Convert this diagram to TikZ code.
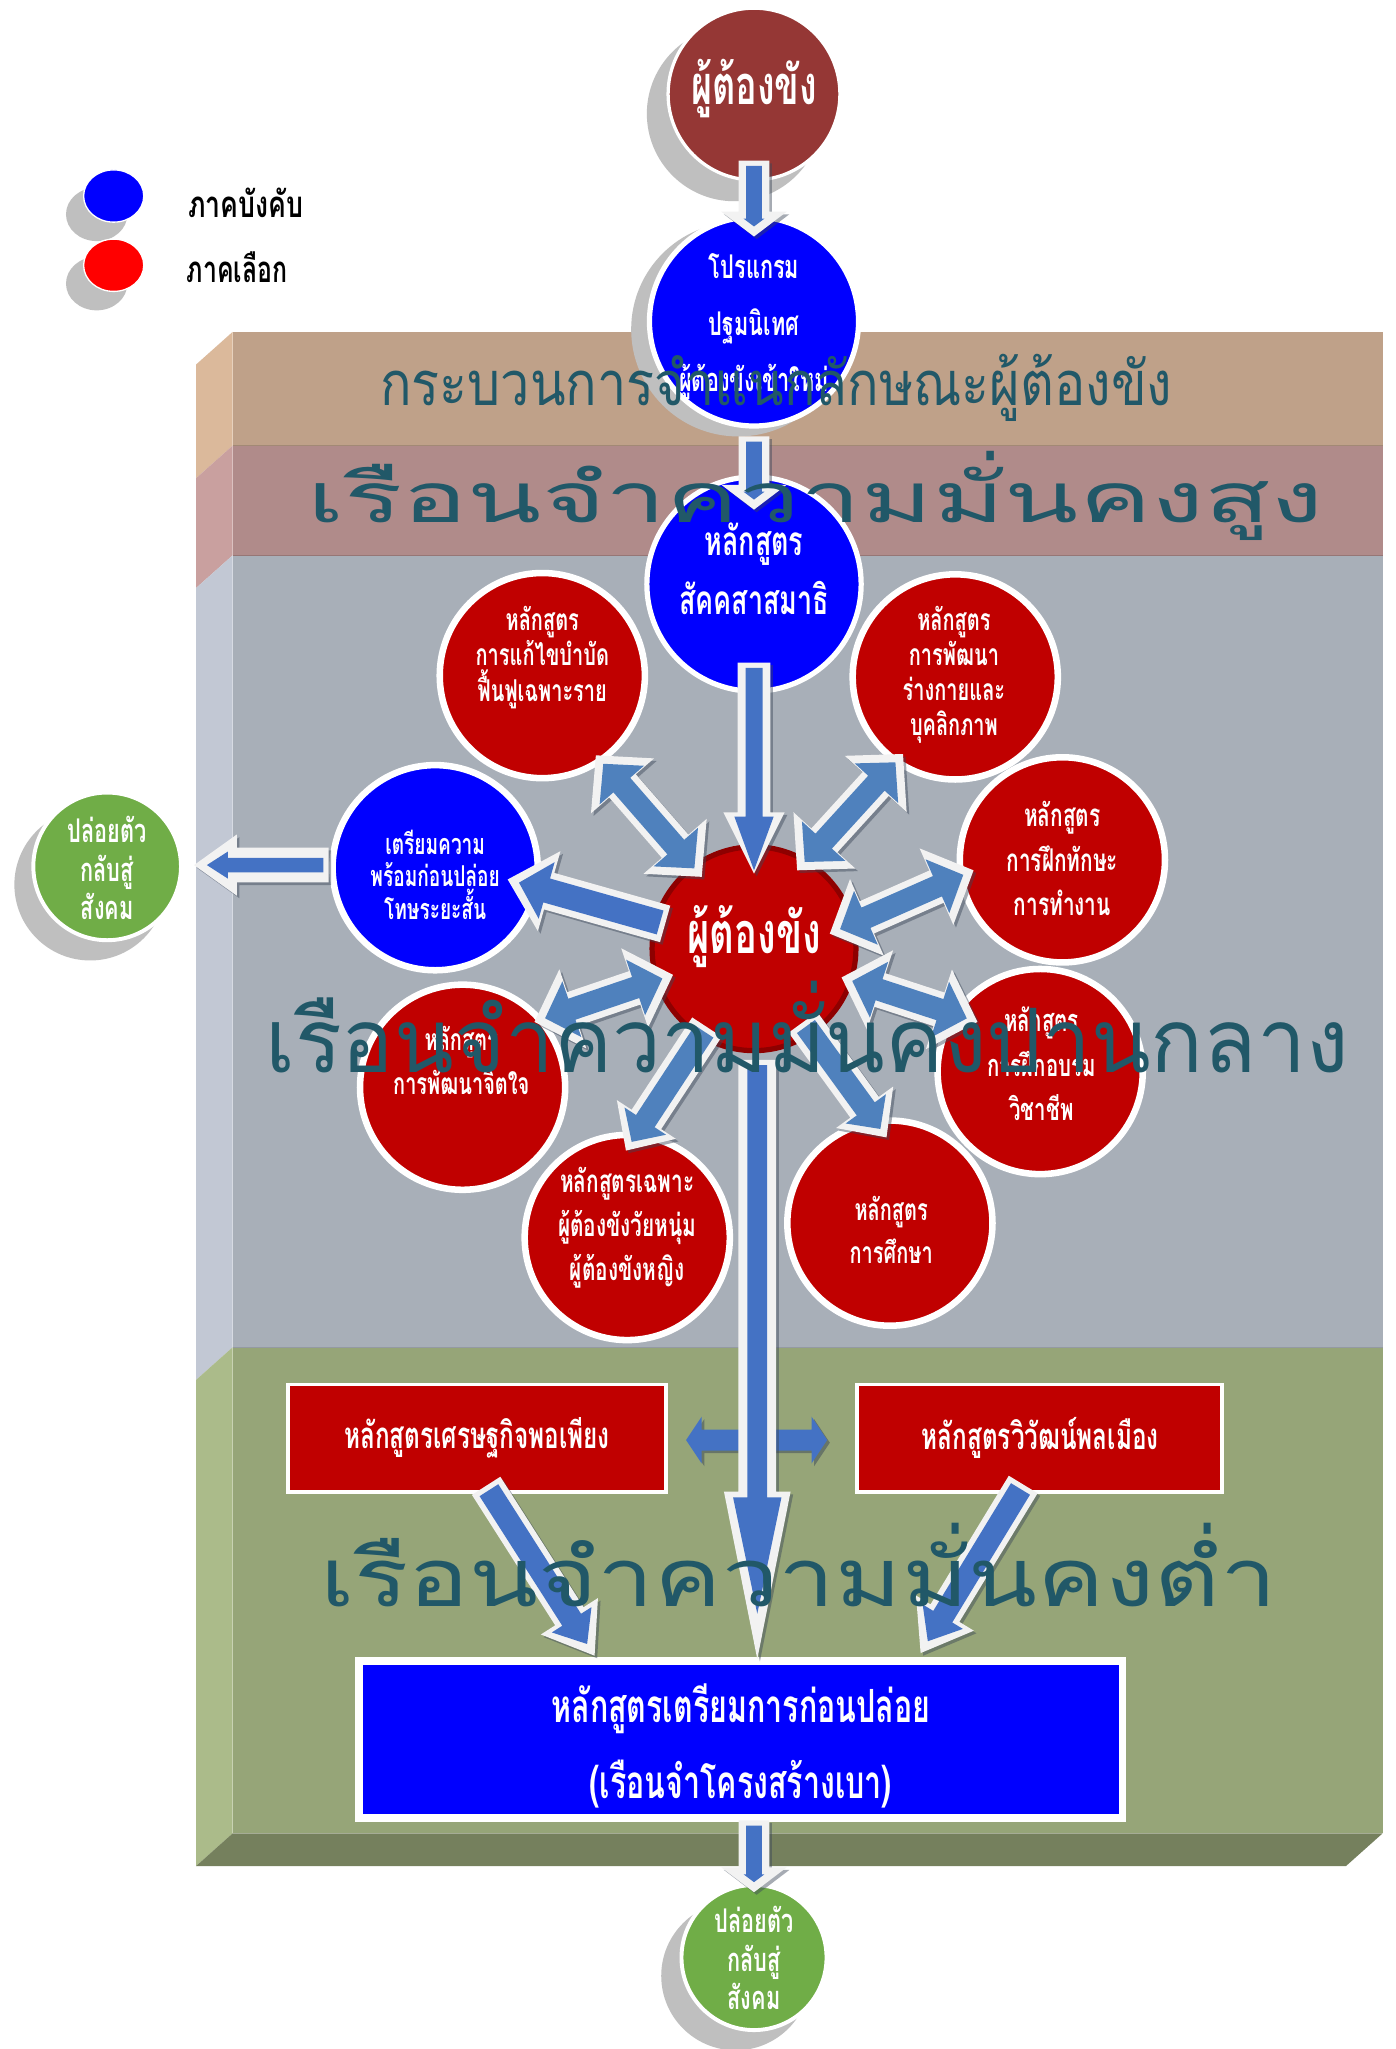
\documentclass[tikz,border=0pt]{standalone}
\usepackage{fontspec}
\usepackage{graphicx}
\usetikzlibrary{calc,shapes.geometric}
\newfontfamily\thai[Script=Thai]{Loma}

\definecolor{topred}{HTML}{953735}
\definecolor{cred}{HTML}{C00000}
\definecolor{rimred}{HTML}{8E0000}
\definecolor{cblue}{HTML}{0000FF}
\definecolor{legred}{HTML}{FF0000}
\definecolor{cgreen}{HTML}{70AD47}
\definecolor{shadowg}{HTML}{BFBFBF}
\definecolor{shadowd}{HTML}{3A4658}
\definecolor{outl}{HTML}{F2F2F2}
\definecolor{arrA}{HTML}{4472C4}
\definecolor{arrB}{HTML}{4F81BD}
\definecolor{bandtxt}{HTML}{215868}
\definecolor{bAf}{HTML}{BFA189}
\definecolor{bAs}{HTML}{DBB99B}
\definecolor{bBf}{HTML}{B08B8A}
\definecolor{bBs}{HTML}{C9A09F}
\definecolor{bCf}{HTML}{A8AFB8}
\definecolor{bCs}{HTML}{C2C8D4}
\definecolor{bDf}{HTML}{96A578}
\definecolor{bDs}{HTML}{ABBB8A}
\definecolor{bDb}{HTML}{75805D}

\newlength\fitlen
\newsavebox\fitbox
\sbox\fitbox{\thai\bfseries\fontsize{23}{23}\selectfont การแก้ไขบำบัด}
\setlength\fitlen{\wd\fitbox}
\ifdim\fitlen<1pt \setlength\fitlen{150pt}\fi
\pgfmathsetmacro\kc{102/\fitlen}
\newcommand\fitw[2]{\sbox\fitbox{#2}\ifdim\wd\fitbox<1pt\usebox\fitbox\else\resizebox{#1}{\height}{\usebox\fitbox}\fi}
\newcommand\tightls{\lineskiplimit=-50pt\relax}

% block arrow polygon: #1 start, #2 tip, #3 half shaft, #4 half head, #5 head length, #6 options
\newcommand\polyarrow[6]{%
  \coordinate (pa-s) at #1;
  \coordinate (pa-e) at #2;
  \coordinate (pa-h) at ($(pa-e)!#5pt!(pa-s)$);
  \fill[#6] ($(pa-s)!#3pt!90:(pa-e)$) -- ($(pa-h)!#3pt!90:(pa-e)$) -- ($(pa-h)!#4pt!90:(pa-e)$) -- (pa-e)
    -- ($(pa-h)!#4pt!-90:(pa-e)$) -- ($(pa-h)!#3pt!-90:(pa-e)$) -- ($(pa-s)!#3pt!-90:(pa-e)$) -- cycle;}
\newcommand\polydarrow[6]{%
  \coordinate (pa-s) at #1;
  \coordinate (pa-e) at #2;
  \coordinate (pa-h) at ($(pa-e)!#5pt!(pa-s)$);
  \coordinate (pa-g) at ($(pa-s)!#5pt!(pa-e)$);
  \fill[#6] (pa-s) -- ($(pa-g)!#4pt!-90:(pa-s)$) -- ($(pa-g)!#3pt!-90:(pa-s)$) -- ($(pa-h)!#3pt!90:(pa-e)$)
    -- ($(pa-h)!#4pt!90:(pa-e)$) -- (pa-e) -- ($(pa-h)!#4pt!-90:(pa-e)$) -- ($(pa-h)!#3pt!-90:(pa-e)$)
    -- ($(pa-g)!#3pt!90:(pa-s)$) -- ($(pa-g)!#4pt!90:(pa-s)$) -- cycle;}
% outlined arrows: #1 from, #2 to, #3 white {hs}{hh}{hl}, #4 blue {hs}{hh}{hl}{tipgap}{colour}
\newcommand\fatarr[4]{%
  \coordinate (fa-a) at #1; \coordinate (fa-b) at #2;
  \polyarrow{(fa-a)}{(fa-b)}#3{fill=shadowd, opacity=.45, transform canvas={shift={(2pt,-2pt)}}}%
  \polyarrow{(fa-a)}{(fa-b)}#3{fill=outl}%
  \fatarrblue#4}
\newcommand\fatarrblue[5]{%
  \coordinate (fa-c) at ($(fa-a)!4pt!(fa-b)$);
  \coordinate (fa-d) at ($(fa-b)!#4pt!(fa-a)$);
  \polyarrow{(fa-c)}{(fa-d)}{#1}{#2}{#3}{fill=#5}}
\newcommand\fatdarr[4]{%
  \coordinate (fa-a) at #1; \coordinate (fa-b) at #2;
  \polydarrow{(fa-a)}{(fa-b)}#3{fill=shadowd, opacity=.45, transform canvas={shift={(2pt,-2pt)}}}%
  \polydarrow{(fa-a)}{(fa-b)}#3{fill=outl}%
  \fatdarrblue#4}
\newcommand\fatdarrblue[5]{%
  \coordinate (fa-c) at ($(fa-a)!#4pt!(fa-b)$);
  \coordinate (fa-d) at ($(fa-b)!#4pt!(fa-a)$);
  \polydarrow{(fa-c)}{(fa-d)}{#1}{#2}{#3}{fill=#5}}

\tikzset{
  circnode/.style={circle, inner sep=0pt, outer sep=0pt},
  redc/.style={circnode, fill=cred, draw=white, line width=5pt, minimum size=157pt},
  bluec/.style={circnode, fill=cblue, draw=white, line width=4pt},
  greenc/.style={circnode, fill=cgreen, draw=white, line width=3pt, minimum size=113pt},
  shadc/.style={circnode, fill=shadowg},
  ctx/.style n args={2}{text=white, align=center, inner sep=0pt, font={\thai\bfseries\fontsize{#1}{#2}\selectfont\tightls}},
  bandt/.style={text=bandtxt, anchor=base, inner sep=0pt},
  legt/.style={anchor=base, inner sep=0pt, text=black, font=\thai\bfseries\fontsize{28}{28}\selectfont},
  redbox/.style={rectangle, fill=cred, draw=white, line width=3pt, inner sep=0pt, minimum height=82pt},
}
\newcommand\ct[1]{\scalebox{\kc}[1]{#1}}

\begin{document}
\begin{tikzpicture}[x=1pt,y=-1pt]
\fill[white] (0,0) rectangle (1068,1568);
\useasboundingbox (0,0) rectangle (1068,1568);

% ---------- legend
\node[ellipse, fill=shadowg, minimum width=47pt, minimum height=41pt, inner sep=0pt] (lbs) at (74,164) {};
\node[ellipse, fill=cblue, draw=white, line width=1pt, minimum width=46pt, minimum height=40pt, inner sep=0pt] (lb) at (87,150) {};
\node[ellipse, fill=shadowg, minimum width=47pt, minimum height=41pt, inner sep=0pt] (lrs) at (74,217) {};
\node[ellipse, fill=legred, draw=white, line width=1pt, minimum width=46pt, minimum height=40pt, inner sep=0pt] (lr) at (87,203) {};
\node[legt] (lbt) at (188,166.4) {\fitw{88pt}{ภาคบังคับ}};
\node[legt] (lrt) at (181.5,216.5) {\fitw{77pt}{ภาคเลือก}};

% ---------- bands
\fill[bAf] (178,254) rectangle (1058,341);
\fill[bBf] (178,341) rectangle (1058,425);
\fill[bCf] (178,425) rectangle (1058,1031);
\fill[bDf] (178,1031) rectangle (1058,1403);
\fill[bAs] (150,279) -- (178,254) -- (178,341) -- (150,366) -- cycle;
\fill[bBs] (150,366) -- (178,341) -- (178,425) -- (150,450) -- cycle;
\fill[bCs] (150,450) -- (178,425) -- (178,1031) -- (150,1056) -- cycle;
\fill[bDs] (150,1056) -- (178,1031) -- (178,1403) -- (150,1428) -- cycle;
\fill[bDb] (150,1428) -- (178,1403) -- (1058,1403) -- (1030,1428) -- cycle;
\draw[bAf!85!black, line width=1pt] (178,341) -- (1058,341);
\draw[bBf!85!black, line width=1pt] (178,425) -- (1058,425);
\draw[bCf!88!black, line width=1pt] (178,1031) -- (1058,1031);

% ---------- circles
\node[shadc, minimum size=134pt] (p0s) at (562,87) {};
\node[circnode, fill=topred, draw=white, line width=2.5pt, minimum size=131.5pt] (p0) at (577,72) {};
\node[shadc, minimum size=164pt] (p1s) at (565,252) {};
\node[bluec, minimum size=160pt] (p1) at (577,246) {};
\node[bluec, minimum size=164pt] (sakk) at (577,447) {};
\node[redc] (c4) at (415,517) {};
\node[redc] (c5) at (731,518) {};
\node[bluec, line width=5pt, minimum size=157pt] (c6) at (333,664) {};
\node[redc] (c7) at (813,658) {};
\node[redc] (c8) at (354,832) {};
\node[redc] (c9) at (796,820) {};
\node[redc] (c10) at (480,947) {};
\node[redc] (c11) at (681,936) {};
\node[circnode, fill=cred, draw=rimred, line width=4pt, minimum size=156pt] (ctr) at (577,726) {};
\node[shadc, minimum size=116pt] (g1s) at (69,677) {};
\node[greenc] (g1) at (82,663) {};
\node[shadc, minimum size=114pt] (g2s) at (563,1512) {};
\node[greenc, minimum size=111pt] (g2) at (577,1498) {};

% ---------- rectangles
\node[redbox, minimum width=289pt] (r1) at (365,1100.5) {};
\node[redbox, minimum width=279.6pt] (r2) at (795.3,1100.5) {};
\node[rectangle, fill=cblue, draw=white, line width=6pt, inner sep=0pt, minimum width=584pt, minimum height=120pt] (box) at (567,1331) {};

% ---------- arrows
\polydarrow{($(r1)+(162,3.5)$)}{($(r2)+(-160.3,3.5)$)}{8}{18}{12}{fill=shadowd, opacity=.5}
\polydarrow{($(r1)+(160,1.5)$)}{($(r2)+(-162.3,1.5)$)}{8}{18}{12}{fill=arrA}
\fatarr{($(p0)+(0,51)$)}{($(p1)+(0,-65)$)}{{11.75}{25}{19}}{{6}{8}{6}{7.7}{arrA}}
\fatarr{($(p1)+(0,88)$)}{($(sakk)+(0,-57)$)}{{11.75}{25}{19}}{{6}{8}{6}{7.7}{arrA}}
\fatarr{($(sakk)+(0,60)$)}{($(ctr)+(0,-57.4)$)}{{12.5}{23.5}{47}}{{6.5}{15}{41}{2.6}{arrA}}
\fatdarr{($(ctr)+(-40,-55)$)}{($(c4)+(41,61)$)}{{13.5}{32}{31}}{{8.5}{22.5}{21.6}{8.6}{arrB}}
\fatdarr{($(ctr)+(33,-60)$)}{($(c5)+(-40,59)$)}{{13.5}{32}{31}}{{8.5}{22.5}{21.6}{8.6}{arrB}}
\fatdarr{($(ctr)+(58,-11.5)$)}{($(c7)+(-68,8)$)}{{13.5}{32}{31}}{{8.5}{22.5}{21.6}{8.6}{arrB}}
\fatdarr{($(ctr)+(67,22)$)}{($(c9)+(-48,-38)$)}{{13.5}{32}{31}}{{8.5}{22.5}{21.6}{8.6}{arrB}}
\fatdarr{($(ctr)+(-62,20)$)}{($(c8)+(55,-50)$)}{{13.5}{32}{31}}{{8.5}{22.5}{21.6}{8.6}{arrB}}
\fatarr{($(ctr)+(-68,-19)$)}{($(c6)+(55.5,9)$)}{{14.5}{31.8}{33}}{{9.5}{22.5}{22}{9}{arrA}}
\fatarr{($(ctr)+(-36,60)$)}{($(c10)+(-1,-66.5)$)}{{13.5}{27}{28.5}}{{8.5}{19}{19}{8}{arrB}}
\fatarr{($(ctr)+(37.4,56.3)$)}{($(c11)+(-2.6,-65.6)$)}{{13.5}{27}{28.5}}{{8.5}{19}{19}{8}{arrB}}
\fatarr{($(c6)+(-81.6,-2)$)}{($(g1)+(66.5,-1)$)}{{13.3}{23.4}{32.7}}{{5.5}{10.3}{16}{9.8}{arrA}}
\fatarr{($(ctr)+(2.5,85)$)}{($(box)+(12.5,-61.5)$)}{{14.5}{25.5}{128}}{{7.5}{18.5}{89}{34.6}{arrA}}
\fatarr{($(r1)+(7,36.5)$)}{($(box)+(-112,-64)$)}{{12.9}{25.9}{35.8}}{{8.5}{18}{22}{10.6}{arrA}}
\fatarr{($(r2)+(-12.3,35.5)$)}{($(box)+(137.5,-66)$)}{{12.9}{25.9}{35.8}}{{8.5}{18}{22}{10.6}{arrA}}
\fatarr{($(box)+(10,62)$)}{($(g2)+(0,-50)$)}{{11.75}{25}{19}}{{6}{8}{6}{7.7}{arrA}}

% ---------- texts in shapes
\node[ctx={41.5}{48}] (p0t) at (577,68) {\ct{ผู้ต้องขัง}};
\node[ctx={25}{43}] (p1t) at (577,250) {\ct{โปรแกรม}\\\ct{ปฐมนิเทศ}\\\ct{ผู้ต้องขังเข้าใหม่}};
\node[ctx={31}{45}] (sakkt) at (577,435.5) {\ct{หลักสูตร}\\\ct{สัคคสาสมาธิ}};
\node[ctx={23}{27}] (c4t) at (415,503) {\ct{หลักสูตร}\\\ct{การแก้ไขบำบัด}\\\ct{ฟื้นฟูเฉพาะราย}};
\node[ctx={23}{26.7}] (c5t) at (730,516.5) {\ct{หลักสูตร}\\\ct{การพัฒนา}\\\ct{ร่างกายและ}\\\ct{บุคลิกภาพ}};
\node[ctx={22}{24.5}] (c6t) at (333,669.5) {\ct{เตรียมความ}\\\ct{พร้อมก่อนปล่อย}\\\ct{โทษระยะสั้น}};
\node[ctx={24}{34}] (c7t) at (813,657) {\ct{หลักสูตร}\\\ct{การฝึกทักษะ}\\\ct{การทำงาน}};
\node[ctx={44}{50}] (ctrt) at (577,717) {\ct{ผู้ต้องขัง}};
\node[ctx={23}{33}] (c8t) at (353,811.5) {\ct{หลักสูตร}\\\ct{การพัฒนาจิตใจ}};
\node[ctx={23.5}{34}] (c9t) at (797,814) {\ct{หลักสูตร}\\\ct{การฝึกอบรม}\\\ct{วิชาชีพ}};
\node[ctx={24}{33.5}] (c10t) at (480,939.5) {\ct{หลักสูตรเฉพาะ}\\\ct{ผู้ต้องขังวัยหนุ่ม}\\\ct{ผู้ต้องขังหญิง}};
\node[ctx={23}{33}] (c11t) at (682,941.5) {\ct{หลักสูตร}\\\ct{การศึกษา}};
\node[ctx={25}{29.5}] (g1t) at (82,664.5) {\ct{ปล่อยตัว}\\\ct{กลับสู่}\\\ct{สังคม}};
\node[ctx={25}{29.5}] (g2t) at (577,1498.5) {\ct{ปล่อยตัว}\\\ct{กลับสู่}\\\ct{สังคม}};
\node[ctx={28}{30}] (r1t) at (365,1100) {\ct{หลักสูตรเศรษฐกิจพอเพียง}};
\node[ctx={28}{30}] (r2t) at (796,1100) {\ct{หลักสูตรวิวัฒน์พลเมือง}};
\node[ctx={35}{58}] (boxt) at (567,1336) {\ct{หลักสูตรเตรียมการก่อนปล่อย}\\\ct{(เรือนจำโครงสร้างเบา)}};

% ---------- band titles (top layer)
\node[bandt, font=\thai\fontsize{47}{47}\selectfont] (b1t) at (594,310.6) {\fitw{606pt}{กระบวนการจำแนกลักษณะผู้ต้องขัง}};
\node[bandt, font=\thai\fontsize{53}{53}\selectfont] (b2t) at (624,400) {\fitw{778pt}{เรือนจำความมั่นคงสูง}};
\node[bandt, font=\thai\fontsize{68}{68}\selectfont] (b3t) at (617.5,821) {\fitw{829pt}{เรือนจำความมั่นคงปานกลาง}};
\node[bandt, font=\thai\fontsize{62}{62}\selectfont] (b4t) at (611,1229) {\fitw{732pt}{เรือนจำความมั่นคงต่ำ}};
\end{tikzpicture}
\end{document}
